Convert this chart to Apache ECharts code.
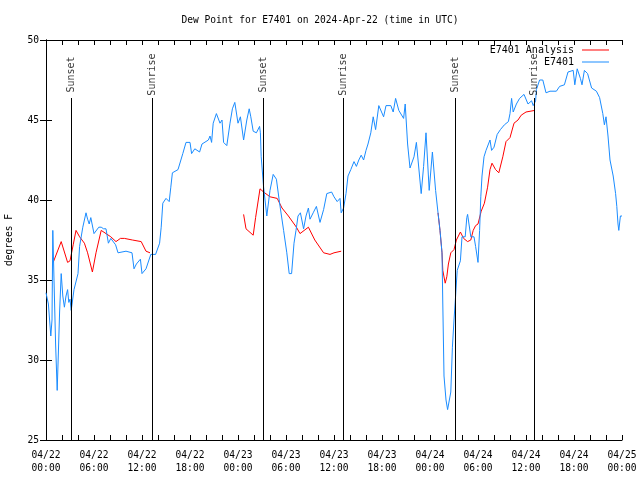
<!DOCTYPE html>
<html>
<head>
<meta charset="utf-8">
<script src="https://cdn.jsdelivr.net/npm/echarts@6/dist/echarts.min.js"></script>
<style>html,body{margin:0;padding:0;background:#fff;}#c{width:640px;height:480px;}</style>
</head>
<body>
<div id="c"></div>
<script>
// hours since 2024-04-22 00:00 UTC
var blueHours = [0,0.3,0.6,0.75,0.85,1.0,1.2,1.4,1.55,1.7,1.9,2.1,2.3,2.5,2.7,2.85,3.0,3.15,3.5,4.0,4.2,4.6,5.0,5.2,5.4,5.6,5.8,6.0,6.25,6.6,6.9,7.2,7.5,7.8,8.1,8.3,8.7,9.0,10.0,10.75,11.0,11.3,11.5,11.8,12.0,12.5,13.1,13.7,14.2,14.4,14.6,15.0,15.4,15.6,15.8,16.5,17.1,17.5,18.0,
18.2,18.6,19.2,19.5,20.3,20.5,20.7,20.9,21.3,21.75,22.0,22.2,22.6,23.0,23.3,23.6,24.0,24.3,24.7,25.1,25.4,25.6,25.9,26.3,26.7,26.8,26.9,27.2,27.6,28.0,28.4,28.8,29.2,29.7,30.1,30.4,30.7,31.0,31.25,31.5,31.8,32.2,32.5,32.8,33.0,33.4,33.8,34.25,34.7,35.1,35.7,36.0,
36.4,36.75,36.9,37.2,37.5,37.75,38.1,38.5,38.8,39.1,39.4,39.7,40.0,40.25,40.6,40.9,41.2,41.6,42.2,42.5,43.1,43.4,43.7,44.1,44.7,44.9,45.2,45.5,46.0,46.3,46.9,47.2,47.5,47.9,48.3,48.7,49.0,49.25,49.5,49.6,49.75,50.0,50.2,50.4,50.6,50.8,51.0,51.2,51.4,51.8,52.0,52.4,52.6,52.7,53.1,53.5,53.7,54.0,
54.2,54.35,54.5,54.75,55.0,55.5,55.7,56.0,56.4,56.8,57.3,57.8,58.0,58.2,58.4,58.8,59.2,59.75,60.25,60.7,60.9,61.2,61.3,61.7,62.1,62.5,63.0,63.8,64.2,64.8,65.25,65.9,66.1,66.4,66.8,67.0,67.3,67.7,68.2,68.8,69.2,69.6,69.8,70.0,70.25,70.5,70.9,71.2,71.35,71.5,71.6,71.8,72.0];
var blueValues = [34.2,33.5,31.5,32.5,38.1,35.0,31.0,28.1,30.5,33.0,35.4,34.0,33.3,34.0,34.4,33.6,33.8,33.1,34.4,35.4,37.1,38.3,39.2,38.8,38.5,38.9,38.9,37.9,37.9,38.3,38.3,38.2,38.2,37.3,37.6,37.6,37.2,36.7,36.8,36.7,35.7,36.0,36.0,36.3,35.4,35.7,36.6,36.6,37.3,38.3,39.8,40.1,39.9,40.8,41.7,41.9,42.9,43.6,43.6,
42.9,43.2,43.0,43.5,43.75,44.0,43.6,44.8,45.4,44.8,45.0,43.6,43.4,44.8,45.7,46.1,44.8,45.2,43.75,45.0,45.7,45.2,44.3,44.2,44.6,44.2,42.7,40.8,39.0,40.6,41.6,41.3,39.8,38.1,36.7,35.4,35.4,37.3,38.1,39.0,39.2,38.2,39.0,39.5,38.8,39.2,39.6,38.6,39.4,40.4,40.5,40.2,
39.9,40.1,39.2,39.5,40.4,41.5,41.9,42.4,42.1,42.5,42.8,42.5,43.1,43.5,44.2,45.2,44.4,45.9,45.2,45.9,45.9,45.5,46.35,45.6,45.1,46.0,43.5,42.0,42.7,43.6,40.4,42.1,44.2,40.6,43.0,40.6,39.2,38.1,36.7,33.5,29.0,27.5,26.9,26.9,28.0,30.8,32.5,34.0,35.6,36.2,37.7,37.7,38.9,39.1,37.7,37.7,37.1,36.1,
38.1,40.2,41.5,42.7,43.1,43.75,43.1,43.3,44.1,44.4,44.7,44.9,45.4,46.35,45.5,46.0,46.35,46.6,46.0,46.2,45.9,46.2,46.9,47.5,47.5,46.7,46.8,46.8,47.1,47.2,48.0,48.1,47.2,48.2,47.6,47.2,48.1,47.9,47.0,46.8,46.4,45.4,44.7,45.2,44.0,42.5,41.5,40.4,39.6,38.5,38.1,39.0,39.0];

var redHours = [0.9,1.9,2.7,3.0,3.4,3.75,4.2,4.8,5.2,5.8,6.25,6.9,7.5,8.1,8.75,9.3,9.8,10.8,11.9,12.5,13.0,
13.1,
24.7,25.0,25.9,26.2,26.75,27.2,28.0,28.9,29.5,30.3,31.3,31.75,32.8,33.6,34.7,35.5,36.0,36.9,
37.0,
49.0,49.25,49.5,49.6,49.9,50.1,50.3,50.6,51.0,51.3,51.8,52.2,52.7,53.1,53.4,53.7,54.0,54.4,54.8,55.2,55.5,55.75,56.2,56.6,57.1,57.5,58.0,58.5,59.0,59.4,60.0,61.1];
var redValues = [36.1,37.4,36.1,36.2,37.2,38.1,37.7,37.3,36.7,35.5,36.7,38.1,37.9,37.7,37.4,37.6,37.6,37.5,37.4,36.8,36.7,
null,
39.1,38.2,37.8,38.9,40.7,40.5,40.2,40.1,39.5,39.0,38.3,37.9,38.3,37.5,36.7,36.6,36.7,36.8,
null,
39.2,38.1,36.7,35.6,34.8,35.2,36.0,36.7,36.9,37.5,38.0,37.6,37.4,37.5,38.1,38.4,38.5,39.3,39.8,40.8,41.9,42.3,41.9,41.7,42.7,43.65,43.9,44.8,45.0,45.3,45.5,45.6];

var sunHours = [3.17, 13.33, 27.17, 37.17, 51.17, 61.04];
var sunNames = ['Sunset','Sunrise','Sunset','Sunrise','Sunset','Sunrise'];

var xTickLabels = ['04/22\n00:00','04/22\n06:00','04/22\n12:00','04/22\n18:00','04/23\n00:00','04/23\n06:00','04/23\n12:00','04/23\n18:00','04/24\n00:00','04/24\n06:00','04/24\n12:00','04/24\n18:00','04/25\n00:00'];
var yTicks = [25,30,35,40,45,50];

function zip(a, b) { return a.map(function (h, i) { return [h, b[i]]; }); }

var FONT = 'DejaVu Sans Mono';
var chart = echarts.init(document.getElementById('c'), null, {renderer: 'canvas'});

var sunLines = sunHours.map(function (h) { return [{coord: [h, 25]}, {coord: [h, 46.375]}]; });
var sunLabels = sunHours.map(function (h, i) { return {value: [h, 47.84], name: sunNames[i]}; });

var axisLineStyle = {show: true, lineStyle: {color: '#000', width: 1}};
var xBase = {
  type: 'value', min: 0, max: 72, interval: 2,
  axisLine: axisLineStyle,
  axisTick: {show: true, inside: true, length: 5, lineStyle: {color: '#000'}},
  splitLine: {show: false}
};
var yBase = {
  type: 'value', min: yTicks[0], max: yTicks[yTicks.length - 1], interval: 5,
  axisLine: axisLineStyle,
  axisTick: {show: true, inside: true, length: 6, lineStyle: {color: '#000'}},
  splitLine: {show: false}
};

chart.setOption({
  animation: false,
  backgroundColor: '#fff',
  title: {
    text: 'Dew Point for E7401 on 2024-Apr-22 (time in UTC)',
    left: 'center', top: 10,
    textStyle: {fontFamily: FONT, fontSize: 9.6, fontWeight: 'normal', color: '#000'}
  },
  grid: {left: 46, right: 18, top: 40, bottom: 40, containLabel: false, outerBoundsMode: 'none'},
  legend: {
    data: ['E7401 Analysis', 'E7401'],
    orient: 'vertical', right: 31, top: 45, align: 'right', padding: 0,
    itemWidth: 27, itemHeight: 1, itemGap: 2, icon: 'rect',
    textStyle: {fontFamily: FONT, fontSize: 10, color: '#000', padding: [0, 3, 0, 0]},
    selectedMode: false
  },
  xAxis: [
    Object.assign({}, xBase, {
      position: 'bottom',
      axisLabel: {
        show: true, margin: 9, color: '#000', fontFamily: FONT, fontSize: 9.6, lineHeight: 13,
        formatter: function (v) { return (v % 6 === 0) ? xTickLabels[v / 6] : ''; }
      }
    }),
    Object.assign({}, xBase, {position: 'top', axisLabel: {show: false}})
  ],
  yAxis: [
    Object.assign({}, yBase, {
      position: 'left',
      name: 'degrees F', nameLocation: 'middle', nameGap: 32, nameRotate: 90,
      nameTextStyle: {fontFamily: FONT, fontSize: 9.6, color: '#000'},
      axisLabel: {show: true, margin: 7, color: '#000', fontFamily: FONT, fontSize: 9.6}
    }),
    Object.assign({}, yBase, {position: 'right', axisLabel: {show: false}})
  ],
  series: [
    {
      name: 'E7401 Analysis', type: 'line', data: zip(redHours, redValues),
      showSymbol: false, symbol: 'none', connectNulls: false,
      lineStyle: {color: '#ff0000', width: 1}, itemStyle: {color: '#ff0000'}, z: 2
    },
    {
      name: 'E7401', type: 'line', data: zip(blueHours, blueValues),
      showSymbol: false, symbol: 'none',
      lineStyle: {color: '#1a8cff', width: 1}, itemStyle: {color: '#1a8cff'}, z: 3
    },
    {
      name: 'sun', type: 'scatter', data: sunLabels, symbolSize: 0, silent: true, z: 4,
      label: {
        show: true, rotate: 90, position: 'inside', color: '#000', fontFamily: FONT, fontSize: 10,
        formatter: function (p) { return p.name; }
      },
      markLine: {
        silent: true, symbol: ['none', 'none'], animation: false,
        lineStyle: {color: '#000', width: 1, type: 'solid'},
        label: {show: false},
        data: sunLines
      }
    }
  ]
});
</script>
</body>
</html>
